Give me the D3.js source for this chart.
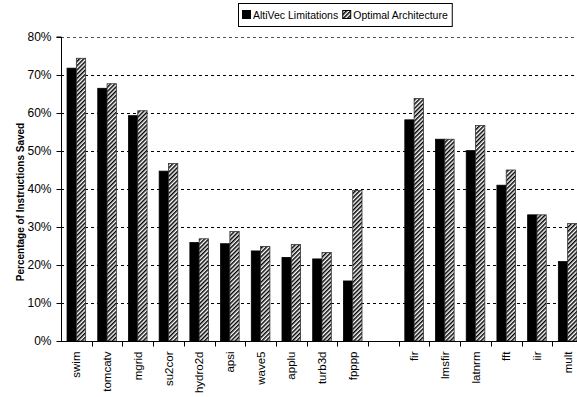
<!DOCTYPE html>
<html>
<head>
<meta charset="utf-8">
<script src="https://cdn.jsdelivr.net/npm/d3@7"></script>
<style>
  html, body { margin: 0; padding: 0; background: #fff; }
  svg { display: block; font-family: "Liberation Sans", Arial, sans-serif; }
</style>
</head>
<body>
<svg id="chart" width="577" height="397"></svg>
<script>
// Benchmarks (an empty slot separates the two suites)
const categories = ["swim", "tomcatv", "mgrid", "su2cor", "hydro2d", "apsi", "wave5", "applu", "turb3d", "fpppp",
                    "", "fir", "lmsfir", "latnrm", "fft", "iir", "mult"];
const seriesNames = ["AltiVec Limitations", "Optimal Architecture"];
// Percentage of instructions saved (null = no bar)
const altivec = [71.8, 66.5, 59.3, 44.7, 25.9, 25.6, 23.7, 22.0, 21.6, 15.8,
                 null, 58.2, 53.1, 50.1, 41.0, 33.2, 20.9];
const optimal = [74.4, 67.7, 60.6, 46.7, 26.9, 28.8, 24.9, 25.4, 23.3, 39.6,
                 null, 63.8, 53.1, 56.7, 45.0, 33.2, 30.9];
const yTicks = [0, 10, 20, 30, 40, 50, 60, 70, 80];

const svg = d3.select("#chart");

// Diagonal hatch fill for the second series
const defs = svg.append("defs");
const pat = defs.append("pattern")
  .attr("id", "hatch")
  .attr("patternUnits", "userSpaceOnUse")
  .attr("width", 3).attr("height", 3)
  .attr("patternTransform", "rotate(45)");
pat.append("rect").attr("width", 3).attr("height", 3).attr("fill", "#fff");
pat.append("rect").attr("width", 1.5).attr("height", 3).attr("fill", "#000");

const plotLeft = 61, plotTop = 37, plotBottom = 341, plotRight = 583;

const x = d3.scaleBand().domain(categories).range([plotLeft, plotRight]).paddingInner(0).paddingOuter(0);
const xs = d3.scaleBand().domain(seriesNames).range([0, x.bandwidth()]).paddingInner(0).paddingOuter(0.65);
const y = d3.scaleLinear().domain([0, 80]).range([plotBottom, plotTop]);

// Dashed gridlines
svg.append("g")
  .selectAll("line")
  .data(yTicks.filter(d => d > 0))
  .join("line")
  .attr("x1", plotLeft).attr("x2", 577)
  .attr("y1", d => Math.round(y(d)) + 0.5).attr("y2", d => Math.round(y(d)) + 0.5)
  .attr("stroke", d => d === 80 ? "#555" : "#000")
  .attr("stroke-width", 1)
  .attr("stroke-dasharray", "3,3");

// Bars
const rows = categories.map((c, i) => ({ c, vals: [altivec[i], optimal[i]] }));
const fills = ["#000", "url(#hatch)"];
const groups = svg.append("g").selectAll("g")
  .data(rows).join("g")
  .attr("transform", d => `translate(${x(d.c)},0)`);
groups.selectAll("rect")
  .data(d => d.vals.map((v, k) => ({ v, k })).filter(e => e.v !== null))
  .join("rect")
  .attr("x", e => xs(seriesNames[e.k]))
  .attr("width", xs.bandwidth())
  .attr("y", e => y(e.v))
  .attr("height", e => y(0) - y(e.v))
  .attr("fill", e => fills[e.k])
  .attr("stroke", e => e.k === 0 ? "#000" : "#333")
  .attr("stroke-width", 0.8);

// Y axis
const yAxis = d3.axisLeft(y).tickValues(yTicks).tickFormat(d => d + "%").tickSize(5).tickPadding(5);
const gy = svg.append("g").attr("transform", `translate(${plotLeft + 0.5},0)`).call(yAxis);
gy.select(".domain").attr("stroke", "#000").attr("d", `M-5,${y(80)}H0V${y(0)}`);
gy.selectAll(".tick line").attr("stroke", "#000");
gy.selectAll(".tick text").attr("font-size", "12px").attr("fill", "#000")
  .attr("font-family", "'Liberation Sans', Arial, sans-serif");

// X axis: ticks between categories, rotated labels
const gx = svg.append("g").attr("transform", `translate(0,${plotBottom + 0.5})`);
gx.append("line").attr("x1", plotLeft).attr("x2", 577).attr("stroke", "#000");
gx.selectAll("line.sep")
  .data(categories.slice(1))
  .join("line").attr("class", "sep")
  .attr("x1", d => Math.round(x(d)) + 0.5).attr("x2", d => Math.round(x(d)) + 0.5)
  .attr("y1", 0).attr("y2", 5)
  .attr("stroke", "#000");
gx.selectAll("text")
  .data(categories.filter(c => c !== ""))
  .join("text")
  .attr("transform", d => `translate(${x(d) + x.bandwidth() / 2},10) rotate(-90)`)
  .attr("dy", "0.35em")
  .attr("text-anchor", "end")
  .attr("font-size", "11.5px")
  .text(d => d);

// Y axis title
svg.append("text")
  .attr("transform", `translate(24,${(plotTop + plotBottom) / 2 + 13}) rotate(-90)`)
  .attr("text-anchor", "middle")
  .attr("font-size", "10px")
  .attr("font-weight", "bold")
  .text("Percentage of Instructions Saved");

// Legend: items laid out left to right, box sized to fit
const lg = svg.append("g");
const box = lg.append("rect").attr("fill", "#fff").attr("stroke", "#000");
const lgX = 238, lgY = 3;
let cursor = lgX + 4;
seriesNames.forEach((name, k) => {
  lg.append("rect").attr("x", cursor + 0.5).attr("y", lgY + 7.5).attr("width", 8).attr("height", 8)
    .attr("fill", fills[k]).attr("stroke", "#000");
  const t = lg.append("text").attr("x", cursor + 11).attr("y", lgY + 16).attr("font-size", "10.5px").text(name);
  cursor += 11 + t.node().getComputedTextLength() + 4;
});
box.attr("x", lgX + 0.5).attr("y", lgY + 0.5).attr("width", cursor - lgX).attr("height", 23);
</script>
</body>
</html>
